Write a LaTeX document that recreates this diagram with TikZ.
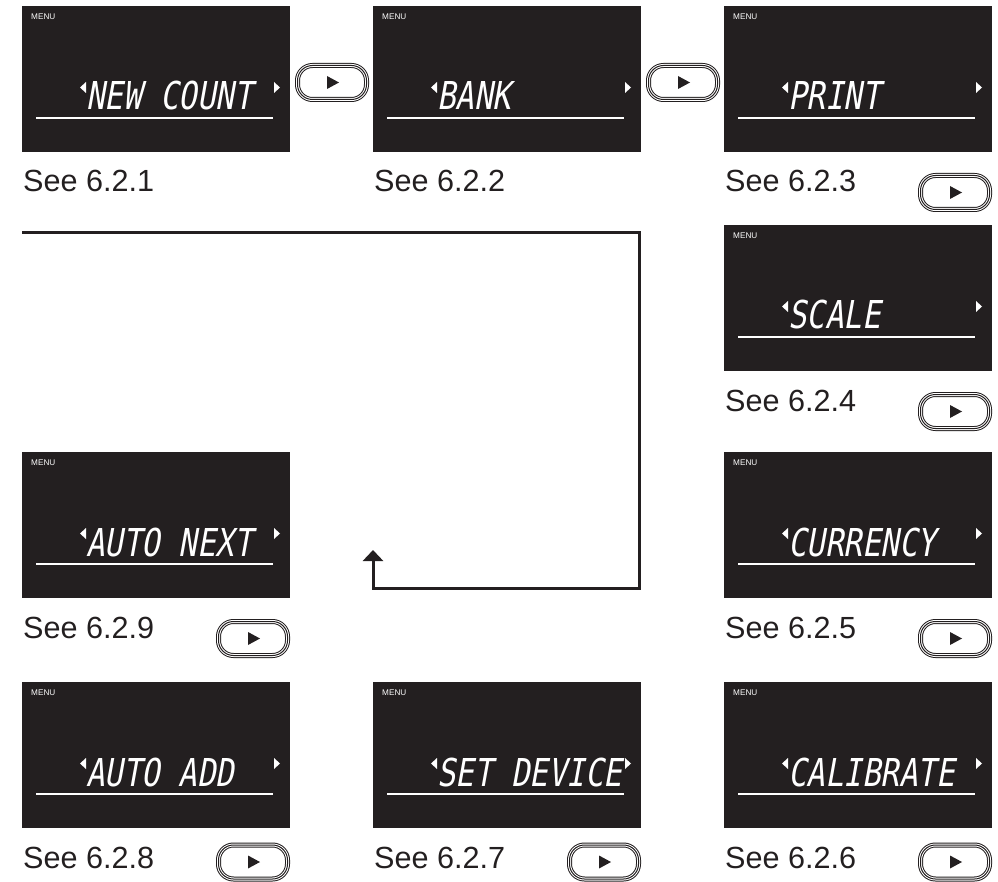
\documentclass[tikz,border=0pt]{standalone}
\usepackage{fontspec}
\setmainfont{Liberation Sans}
\newfontfamily\lcdfont[FakeSlant=0.18,FakeStretch=0.8]{DejaVu Sans Mono}
\usetikzlibrary{calc,arrows.meta}
\definecolor{ink}{HTML}{231F20}
\tikzset{
  screen/.style={fill=ink, draw=none, minimum width=268pt, minimum height=146pt, inner sep=0pt, outer sep=0pt, anchor=north west},
  menulbl/.style={text=white, font=\fontsize{8.2}{9}\selectfont, inner sep=0pt, anchor=north west},
  lcdtext/.style={text=white, font=\lcdfont\fontsize{38.4}{40}\selectfont, inner sep=0pt, anchor=base west},
  uline/.style={draw=white, line width=1.3pt},
  seelabel/.style={text=ink, font=\fontsize{30.6}{36}\selectfont, inner sep=0pt, anchor=base west},
  btn/.style={draw=ink, line width=5pt, rounded corners=15pt, minimum width=69pt, minimum height=34pt, inner sep=0pt, postaction={draw=white, line width=3pt}, postaction={draw=ink, line width=1pt}},
  looppath/.style={draw=ink, line width=3pt},
}
\newcommand\lcdscreen[4]{%
  \node[screen] (#1) at (#2,#3) {};
  \node[menulbl] (#1menu) at ($(#1.north west)+(9,7.3)$) {MENU};
  \draw[uline] ($(#1.north west)+(14,112)$) -- ($(#1.north west)+(251,112)$);
  \fill[white] ($(#1.north west)+(58,81.5)$) -- ++(6,5.5) -- ++(0,-11) -- cycle;
  \fill[white] ($(#1.north west)+(258,81.5)$) -- ++(-6,5.5) -- ++(0,-11) -- cycle;
  \node[lcdtext] (#1txt) at ($(#1.north west)+(64,104)$) {#4};
}
\newcommand\pbutton[3]{%
  \node[btn] (#1) at (#2,#3) {};
  \fill[ink] ($(#1.center)+(-5,-6.5)$) -- ++(12,6.5) -- ++(-12,6.5) -- cycle;
}
\begin{document}
\begin{tikzpicture}[x=1pt,y=-1pt]
\useasboundingbox (0,0) rectangle (998,882);
% screens
\lcdscreen{s1}{22}{6}{NEW COUNT}
\lcdscreen{s2}{373}{6}{BANK}
\lcdscreen{s3}{724}{6}{PRINT}
\lcdscreen{s4}{724}{225}{SCALE}
\lcdscreen{s5}{724}{452}{CURRENCY}
\lcdscreen{s6}{724}{682}{CALIBRATE}
\lcdscreen{s7}{373}{682}{SET DEVICE}
\lcdscreen{s8}{22}{682}{AUTO ADD}
\lcdscreen{s9}{22}{452}{AUTO NEXT}
% buttons
\pbutton{b1}{332}{82.5}
\pbutton{b2}{683}{82.5}
\pbutton{b3}{955}{192.5}
\pbutton{b4}{955}{411.5}
\pbutton{b5}{955}{638.5}
\pbutton{b9}{253}{638.5}
\pbutton{b6}{955}{862}
\pbutton{b7}{604}{862}
\pbutton{b8}{253}{862}
% labels
\node[seelabel] (l1) at (23,192) {See 6.2.1};
\node[seelabel] (l2) at (374,192) {See 6.2.2};
\node[seelabel] (l3) at (725,192) {See 6.2.3};
\node[seelabel] (l4) at (725,411) {See 6.2.4};
\node[seelabel] (l5) at (725,638) {See 6.2.5};
\node[seelabel] (l9) at (23,638) {See 6.2.9};
\node[seelabel] (l6) at (725,868) {See 6.2.6};
\node[seelabel] (l7) at (374,868) {See 6.2.7};
\node[seelabel] (l8) at (23,868) {See 6.2.8};
% loop connector
\coordinate (loopstart) at (22,233);
\coordinate (loopc1) at (639,233);
\coordinate (loopc2) at (639,588);
\coordinate (loopc3) at (373,588);
\coordinate (loopend) at (373,550);
\draw[looppath, -{Triangle[width=20pt,length=11pt]}] (loopstart) -- (loopc1) -- (loopc2) -- (loopc3) -- (loopend);
\end{tikzpicture}
\end{document}
